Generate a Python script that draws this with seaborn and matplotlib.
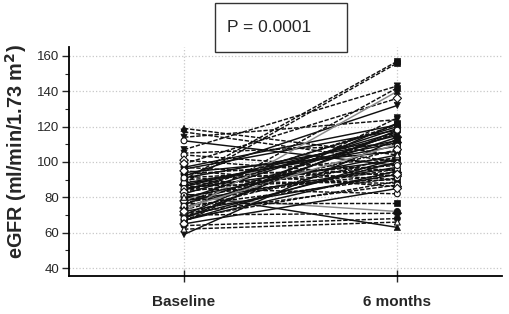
import numpy as np
import pandas as pd
import matplotlib
matplotlib.use('Agg')
import matplotlib.pyplot as plt
import matplotlib.patches as mpatches
from matplotlib.ticker import MultipleLocator
import seaborn as sns

# eGFR per patient (baseline -> 6 months)
baseline = [119, 117, 114, 112, 107, 105, 104, 101, 99, 97,
            97, 96, 95, 93, 92, 91, 90, 90, 89, 88,
            88, 87, 86, 85, 85, 84, 83, 82, 82, 81,
            80, 79, 78, 78, 77, 76, 75, 75, 74, 73,
            72, 71, 70, 70, 69, 68, 68, 67, 66, 65,
            64, 62, 59, 94, 91, 87, 83, 80, 77, 74,
            72, 69, 67, 86]
month6 = [104, 100, 124, 98, 143, 110, 95, 92, 136, 121,
          90, 118, 86, 102, 132, 112, 157, 96, 88, 156,
          109, 94, 115, 101, 82, 120, 99, 63, 117, 93,
          72, 119, 107, 97, 77, 116, 142, 91, 114, 103,
          140, 87, 122, 71, 100, 118, 89, 95, 125, 85,
          68, 66, 113, 106, 98, 111, 121, 104, 96, 110,
          93, 117, 102, 90]
# line kind: 'd' dashed black, 's' solid black, 'g' solid grey
kinds = list('ddd' 'sd' 'dddd' 's' 'dsdd' 'ssdd' 'dd' 'sds' 'sds' 'dss'
             'dg' 'sds' 'dsdd' 'sdg' 'dsds' 'sdsd' 'sdds' 's'
             'dsdsdg' 'sdsd' 'g')
markers = ['^', 'v', 'v', 'o', 'v', 'v', 'o', 'D', 'D', 'o',
           's', 'v', 'D', 'o', 'v', 's', 's', 'o', '^', 's',
           'o', 'D', 'v', 's', 'o', '^', 'D', '^', 'v', 'o',
           'o', 's', 'D', '^', 's', 'v', 's', 'o', 'D', '^',
           '^', 'o', 's', 'D', 'v', 'o', '^', 's', 'v', 'D',
           'o', '^', 'v', 's', 'o', 'D', 'v', '^', 'o', 's',
           'D', 'v', 'o', '^']
open_marker = [False, False, False, True, False, False, True, True, True, False,
               False, False, True, False, False, False, False, True, False, False,
               True, False, False, False, True, False, True, False, False, True,
               False, False, True, False, False, False, False, True, False, True,
               False, True, False, False, False, True, False, False, False, True,
               False, True, False, False, True, False, False, True, False, False,
               True, False, False, False]
visits = ['Baseline', '6 months']

n = len(baseline)
kinds = (kinds + ['d'] * n)[:n]
rows = []
for i in range(n):
    for pos, val in enumerate([baseline[i], month6[i]]):
        rows.append({'patient': i, 'visit': pos, 'egfr': val,
                     'kind': kinds[i], 'marker': markers[i], 'open': open_marker[i]})
df = pd.DataFrame(rows)

sns.set_style('white')
plt.rcParams['font.family'] = ['Liberation Sans', 'DejaVu Sans']

fig = plt.figure(figsize=(5.1, 3.14), dpi=100)
ax = fig.add_axes([0.135, 0.121, 0.849, 0.729])

palette = {i: ('#8a8a8a' if kinds[i] == 'g' else '#111111') for i in range(n)}
dash_map = {i: ((3, 1.2) if kinds[i] == 'd' else '') for i in range(n)}
sns.lineplot(data=df, x='visit', y='egfr', hue='patient', style='patient',
             palette=palette, dashes=dash_map, units='patient', estimator=None,
             linewidth=1.05, legend=False, ax=ax, zorder=3)

filled = df[~df['open']]
hollow = df[df['open']]
sns.scatterplot(data=filled, x='visit', y='egfr', style='marker',
                markers={m: m for m in set(markers)}, color='#111111',
                edgecolor='#111111', s=20, linewidth=0.5, legend=False, ax=ax, zorder=4)
sns.scatterplot(data=hollow, x='visit', y='egfr', style='marker',
                markers={m: m for m in set(markers)}, color='white',
                edgecolor='#111111', s=18, linewidth=0.8, legend=False, ax=ax, zorder=5)

ax.set_xlim(-0.54, 1.49)
ax.set_ylim(35.5, 165)
ax.set_xticks([0, 1])
ax.set_xticklabels(visits, fontsize=11, fontweight='bold')
ax.yaxis.set_minor_locator(MultipleLocator(10))
ax.set_yticks(range(40, 161, 20))
ax.tick_params(axis='y', which='major', direction='out', length=5, width=1,
               labelsize=9.5, pad=2, left=True)
ax.tick_params(axis='y', which='minor', direction='out', length=3, width=0.8, left=True)
ax.tick_params(axis='x', which='major', direction='inout', length=8, width=1,
               pad=10, bottom=True)
ax.grid(True, which='major', color='#c8c8c8', linestyle=':', linewidth=0.9)
ax.set_axisbelow(True)
for side in ['top', 'right']:
    ax.spines[side].set_visible(False)
for side in ['left', 'bottom']:
    ax.spines[side].set_color('black')
    ax.spines[side].set_linewidth(1.3)
ax.set_xlabel('')
ax.set_ylabel(r'eGFR (ml/min/1.73 m$^{\mathbf{2}}$)', fontsize=14.3,
              fontweight='bold')
ax.yaxis.set_label_coords(-0.092, 0.545)

# P value box
fig.patches.append(mpatches.Rectangle((215 / 510, 1 - 52 / 314), 132 / 510, 49 / 314,
                                      transform=fig.transFigure, fill=False,
                                      edgecolor='#333333', linewidth=1))
fig.text(227 / 510, 1 - 28 / 314, 'P = 0.0001', fontsize=12.5, va='center', ha='left')

fig.savefig('out.png', dpi=100)
